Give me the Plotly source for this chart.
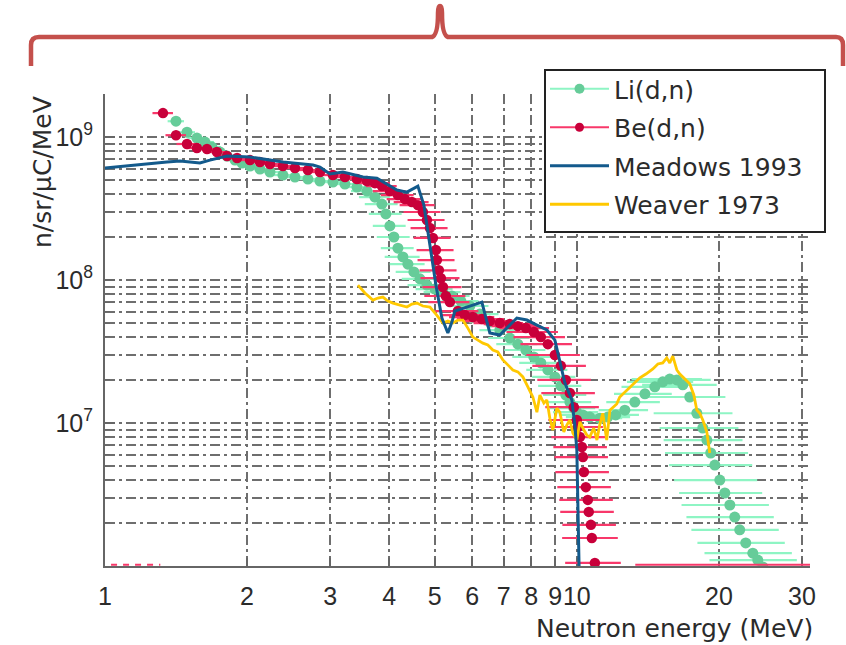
import math
import plotly.graph_objects as go

# ---------------- data ----------------
# Li(d,n): neutron energy (MeV), yield (n/sr/uC/MeV), fractional energy half-width
li_E = [1.414, 1.492, 1.566, 1.629, 1.685, 1.753, 1.814, 1.886, 1.951, 2.029,
        2.130, 2.237, 2.383, 2.527, 2.692, 2.855, 3.041, 3.225, 3.420, 3.591,
        3.733, 3.862, 3.938, 4.016, 4.095, 4.176, 4.279, 4.385, 4.515, 4.649,
        4.811, 5.003, 5.202, 5.435, 5.679, 5.933, 6.230, 6.541, 6.867, 7.210,
        7.499, 7.797, 8.107, 8.389, 8.681, 8.984, 9.250, 9.477, 9.665, 9.854,
        10.00, 10.30, 10.65, 11.19, 11.63, 12.09, 12.64, 13.27, 13.94, 14.63,
        15.21, 15.74, 16.29, 16.77, 17.35, 17.96, 18.49, 18.86, 19.22, 19.61,
        20.09, 20.59, 21.10, 21.61, 22.14, 22.80, 23.60, 24.18, 24.79]
li_flux = [1.29e9, 1.08e9, 9.84e8, 9.23e8, 8.51e8, 7.85e8, 7.36e8, 6.90e8, 6.58e8, 6.27e8,
           5.97e8, 5.69e8, 5.42e8, 5.25e8, 5.08e8, 4.92e8, 4.84e8, 4.69e8, 4.47e8, 4.19e8,
           3.80e8, 3.40e8, 2.90e8, 2.39e8, 2.00e8, 1.67e8, 1.45e8, 1.29e8, 1.14e8, 1.02e8,
           9.22e7, 8.65e7, 8.24e7, 7.73e7, 7.13e7, 6.58e7, 5.78e7, 5.08e7, 4.47e7, 3.93e7,
           3.56e7, 3.24e7, 2.90e7, 2.63e7, 2.35e7, 2.10e7, 1.82e7, 1.57e7, 1.40e7, 1.27e7,
           1.19e7, 1.14e7, 1.10e7, 1.08e7, 1.10e7, 1.14e7, 1.23e7, 1.40e7, 1.60e7, 1.79e7,
           1.94e7, 2.03e7, 2.00e7, 1.85e7, 1.52e7, 1.17e7, 9.23e6, 7.60e6, 6.17e6, 5.08e6,
           3.99e6, 3.24e6, 2.67e6, 2.20e6, 1.79e6, 1.45e6, 1.23e6, 1.10e6, 9.84e5]
li_res = [0.04, 0.04, 0.045, 0.045, 0.045, 0.045, 0.05, 0.05, 0.05,
          0.05, 0.055, 0.055, 0.055, 0.06, 0.06, 0.06,
          0.065, 0.07, 0.07, 0.075, 0.075, 0.08, 0.08, 0.08, 0.08, 0.08, 0.085, 0.085,
          0.085, 0.085, 0.09, 0.09, 0.09, 0.09, 0.09, 0.095, 0.095, 0.095, 0.095,
          0.10, 0.10, 0.10, 0.10, 0.10, 0.10, 0.105, 0.105, 0.105, 0.11, 0.11, 0.11,
          0.11, 0.11, 0.115, 0.115, 0.12, 0.12,
          0.13, 0.14, 0.15, 0.16, 0.17,
          0.18, 0.18, 0.19, 0.19, 0.19, 0.19, 0.20, 0.20,
          0.20, 0.20, 0.21, 0.21, 0.21, 0.21, 0.21, 0.21, 0.21]

# Be(d,n)
be_E = [1.327, 1.414, 1.492, 1.566, 1.645, 1.727, 1.814, 1.905, 2.029, 2.130,
        2.237, 2.383, 2.527, 2.692, 2.855, 3.041, 3.225, 3.420, 3.591, 3.733,
        3.862, 4.016, 4.176, 4.321, 4.471, 4.603, 4.717, 4.811, 4.882, 4.954,
        5.027, 5.051, 5.101, 5.151, 5.202, 5.278, 5.382, 5.596, 5.790, 6.021,
        6.291, 6.541, 6.867, 7.210, 7.499, 7.797, 8.107, 8.389, 8.681, 8.984,
        9.250, 9.477, 9.665, 9.854, 10.00, 10.05, 10.15, 10.25, 10.30, 10.35,
        10.45, 10.55, 10.60, 10.71, 10.76, 10.92]
be_flux = [1.47e9, 1.03e9, 8.94e8, 8.38e8, 8.24e8, 7.85e8, 7.36e8, 7.13e8, 6.90e8, 6.68e8,
           6.47e8, 6.27e8, 6.07e8, 5.88e8, 5.69e8, 5.42e8, 5.25e8, 5.08e8, 4.92e8, 4.76e8,
           4.54e8, 4.19e8, 3.93e8, 3.68e8, 3.51e8, 3.34e8, 2.99e8, 2.63e8, 2.31e8, 1.97e8,
           1.62e8, 1.38e8, 1.17e8, 1.03e8, 8.93e7, 7.73e7, 7.01e7, 6.07e7, 5.69e7, 5.51e7,
           5.33e7, 5.16e7, 5.00e7, 4.92e7, 4.76e7, 4.61e7, 4.33e7, 3.99e7, 3.56e7, 2.99e7,
           2.51e7, 2.00e7, 1.62e7, 1.29e7, 1.05e7, 9.38e6, 7.98e6, 6.79e6, 5.78e6, 4.54e6,
           3.56e6, 2.90e6, 2.39e6, 1.94e6, 1.57e6, 1.05e6]
be_res = [0.05, 0.05, 0.05, 0.05, 0.05, 0.05, 0.055, 0.055,
          0.055, 0.06, 0.06, 0.06, 0.06, 0.065, 0.065, 0.065, 0.07, 0.07, 0.07, 0.075, 0.075,
          0.08, 0.08, 0.085, 0.085, 0.085, 0.09, 0.09, 0.09, 0.09, 0.09, 0.09, 0.09, 0.095, 0.095,
          0.10, 0.10, 0.105, 0.11, 0.11, 0.115, 0.115, 0.12, 0.12, 0.12, 0.12, 0.125,
          0.125, 0.125, 0.13, 0.13, 0.13, 0.13, 0.13, 0.13, 0.13, 0.13, 0.13, 0.13,
          0.13, 0.13, 0.13, 0.13, 0.13, 0.135, 0.135]
# Be(d,n) bins below the plotted range (drawn on the lower edge)
be_low_E = [13.3, 31.2]
be_low_flux = [1.02e6, 1.02e6]
be_low2_E = [1.03, 1.31]
be_low2_flux = [1.02e6, 1.02e6]

# Meadows 1993
md_E = [1.000, 1.146, 1.353, 1.442, 1.589, 1.669, 1.814, 2.029, 2.383, 2.759,
        2.855, 2.997, 3.193, 3.521, 3.770, 4.156, 4.363, 4.603, 4.741, 4.882,
        5.027, 5.176, 5.329, 5.435, 5.514, 5.847, 6.291, 6.541, 6.867, 7.462,
        7.836, 8.229, 8.639, 8.984, 9.204, 9.431, 9.759, 9.903, 10.00, 10.05, 10.15]
md_flux = [6.07e8, 6.37e8, 6.68e8, 6.80e8, 6.58e8, 6.90e8, 7.36e8, 7.25e8, 6.68e8, 6.37e8,
           6.17e8, 5.51e8, 5.69e8, 5.25e8, 5.16e8, 4.26e8, 4.12e8, 4.54e8, 3.34e8, 1.76e8,
           9.22e7, 5.42e7, 4.26e7, 5.08e7, 6.07e7, 6.47e7, 7.01e7, 4.26e7, 4.12e7, 5.42e7,
           5.25e7, 4.84e7, 4.47e7, 3.80e7, 2.76e7, 1.91e7, 1.45e7, 9.68e6, 6.47e6, 3.40e6, 5.0e5]

# Weaver 1973
wv_E = [3.436, 3.555, 3.697, 3.788, 3.881, 3.977, 4.075, 4.217, 4.363, 4.471,
        4.581, 4.717, 4.882, 5.027, 5.202, 5.329, 5.462, 5.596, 5.735, 5.875,
        6.021, 6.170, 6.323, 6.477, 6.637, 6.801, 6.970, 7.140, 7.317, 7.499,
        7.685, 7.874, 8.068, 8.229, 8.350, 8.514, 8.639, 8.766, 8.896, 9.071,
        9.204, 9.386, 9.524, 9.665, 9.806, 10.00, 10.15, 10.35, 10.50, 10.65,
        10.86, 11.03, 11.19, 11.35, 11.57, 11.75, 11.92, 12.15, 12.33, 12.64,
        12.95, 13.27, 13.60, 14.01, 14.49, 14.85, 15.21, 15.51, 15.74, 15.97,
        16.29, 16.53, 16.93, 17.35, 17.70, 17.96, 18.22, 18.49, 18.86, 19.13]
wv_flux = [9.22e7, 8.11e7, 7.24e7, 7.48e7, 7.60e7, 7.13e7, 6.90e7, 6.68e7, 6.47e7, 6.79e7,
           6.90e7, 6.58e7, 6.47e7, 5.78e7, 5.00e7, 5.16e7, 5.00e7, 5.25e7, 5.25e7, 4.61e7,
           3.99e7, 3.80e7, 3.62e7, 3.51e7, 3.24e7, 3.14e7, 2.76e7, 2.55e7, 2.35e7, 2.28e7,
           2.10e7, 1.79e7, 1.52e7, 1.19e7, 1.57e7, 1.38e7, 1.45e7, 1.08e7, 8.93e6, 1.27e7,
           1.19e7, 8.65e6, 9.68e6, 1.05e7, 8.51e6, 7.60e6, 1.02e7, 8.93e6, 8.24e6, 7.98e6,
           9.23e6, 7.60e6, 9.84e6, 1.17e7, 7.60e6, 1.23e7, 1.29e7, 1.36e7, 1.52e7, 1.65e7,
           1.79e7, 1.91e7, 2.07e7, 2.20e7, 2.39e7, 2.59e7, 2.63e7, 2.85e7, 2.63e7, 2.94e7,
           2.35e7, 2.20e7, 2.03e7, 1.88e7, 1.57e7, 1.23e7, 1.17e7, 1.05e7, 8.65e6, 6.17e6]

# axis ticks
x_tickvals = [1, 2, 3, 4, 5, 6, 7, 8, 9, 10, 20, 30]
x_ticktext = ["1", "2", "3", "4", "5", "6", "7", "8", "9", "10", "20", "30"]
y_tickvals = [1e7, 1e8, 1e9]
y_ticktext = ["10<sup>7</sup>", "10<sup>8</sup>", "10<sup>9</sup>"]

# ---------------- styling ----------------
LI_MARK = "#66cc99"
LI_ERR = "#8ef5c4"
BE_MARK = "#c8003a"
BE_ERR = "#f8386a"
MD_COL = "#135a8c"
WV_COL = "#ffc800"
GRID_COL = "#6e6e6e"
AX_COL = "#666666"
TXT_COL = "#2b2b2b"

W, H = 846, 645
ML, MR, MT, MB = 105, 36, 94, 79
PW, PH = W - ML - MR, H - MT - MB


def px(x):
    return (x - ML) / PW


def py(y):
    return (H - MB - y) / PH


li_dE = [r * e for r, e in zip(li_res, li_E)]
be_dE = [r * e for r, e in zip(be_res, be_E)]

fig = go.Figure()

fig.add_trace(go.Scatter(
    x=li_E, y=li_flux, mode="markers", showlegend=False, hoverinfo="skip",
    marker=dict(size=11, color=LI_MARK, line=dict(width=0)),
    error_x=dict(type="data", array=li_dE, color=LI_ERR, thickness=2.2, width=0),
))
fig.add_trace(go.Scatter(
    x=be_low_E, y=be_low_flux, mode="lines", showlegend=False, hoverinfo="skip",
    line=dict(color=BE_ERR, width=2),
))
fig.add_trace(go.Scatter(
    x=be_low2_E, y=be_low2_flux, mode="lines", showlegend=False, hoverinfo="skip",
    line=dict(color=BE_ERR, width=2, dash="6px,6px"),
))
fig.add_trace(go.Scatter(
    x=be_E, y=be_flux, mode="markers", showlegend=False, hoverinfo="skip",
    marker=dict(size=10.5, color=BE_MARK, line=dict(width=0)),
    error_x=dict(type="data", array=be_dE, color=BE_ERR, thickness=2.2, width=0),
))
fig.add_trace(go.Scatter(
    x=wv_E, y=wv_flux, mode="lines", name="Weaver 1973",
    line=dict(color=WV_COL, width=2.8), legendgroup="d", legendrank=4,
))
fig.add_trace(go.Scatter(
    x=md_E, y=md_flux, mode="lines", name="Meadows 1993",
    line=dict(color=MD_COL, width=3), legendgroup="c", legendrank=3,
))
# legend entries for the two measured spectra (marker with error bar line)
fig.add_trace(go.Scatter(
    x=[None], y=[None], mode="lines+markers", name="Li(d,n)",
    line=dict(color=LI_ERR, width=2), marker=dict(size=10, color=LI_MARK),
    legendgroup="a", legendrank=1,
))
fig.add_trace(go.Scatter(
    x=[None], y=[None], mode="lines+markers", name="Be(d,n)",
    line=dict(color=BE_ERR, width=2), marker=dict(size=9, color=BE_MARK),
    legendgroup="b", legendrank=2,
))

grid = dict(showgrid=True, gridcolor=GRID_COL, gridwidth=1.6, griddash="10px,4px,3px,4px")

y_minor = [k * 10 ** n for n in (6, 7, 8, 9) for k in range(2, 10) if k * 10 ** n <= 2e9]

fig.update_layout(
    width=W, height=H,
    margin=dict(l=ML, r=MR, t=MT, b=MB, pad=0),
    paper_bgcolor="white", plot_bgcolor="white",
    font=dict(family="Liberation Sans, Arial, sans-serif", color=TXT_COL),
    xaxis=dict(
        type="log", range=[0, math.log10(31.2)],
        tickmode="array", tickvals=x_tickvals, ticktext=x_ticktext, tickangle=0,
        ticks="inside", ticklen=8, tickwidth=1.5, tickcolor=AX_COL,
        showline=True, linecolor=AX_COL, linewidth=2, mirror=False,
        tickfont=dict(family="Liberation Sans, Arial, sans-serif", size=25, color=TXT_COL),
        ticklabelstandoff=7, zeroline=False, layer="below traces",
        **grid,
    ),
    yaxis=dict(
        type="log", range=[6, math.log10(2e9)],
        tickmode="array", tickvals=y_tickvals, ticktext=y_ticktext,
        ticks="inside", ticklen=10, tickwidth=1.5, tickcolor=AX_COL,
        showline=True, linecolor=AX_COL, linewidth=2, mirror=False,
        tickfont=dict(family="Liberation Sans, Arial, sans-serif", size=25, color=TXT_COL),
        ticklabelstandoff=5, zeroline=False, layer="below traces",
        minor=dict(tickmode="array", tickvals=y_minor, ticks="inside", ticklen=5,
                   tickwidth=1.2, tickcolor=AX_COL, **grid),
        **grid,
    ),
    legend=dict(
        x=px(545), y=py(66), xanchor="left", yanchor="top",
        bgcolor="rgba(0,0,0,0)", borderwidth=0,
        font=dict(family="DejaVu Sans, sans-serif", size=25, color=TXT_COL),
        traceorder="grouped", tracegroupgap=3, itemwidth=59,
    ),
    annotations=[
        dict(text="Neutron energy (MeV)", xref="paper", yref="paper",
             x=px(815), y=py(628), xanchor="right", yanchor="middle", showarrow=False,
             font=dict(family="DejaVu Sans, sans-serif", size=25, color=TXT_COL)),
        dict(text="n/sr/µC/MeV", xref="paper", yref="paper", textangle=-90,
             x=px(42), y=py(172), xanchor="center", yanchor="middle", showarrow=False,
             font=dict(family="DejaVu Sans, sans-serif", size=25, color=TXT_COL)),
    ],
)

# legend frame (white box with dark border, wider than the auto-sized legend)
fig.add_shape(type="rect", xref="paper", yref="paper",
              x0=px(545), x1=px(825), y0=py(232), y1=py(70),
              fillcolor="white", line=dict(color="#222222", width=2), layer="above")

# decorative curly brace above the chart
brace = (
    f"M {px(31)},{py(66)} L {px(31)},{py(45)} Q {px(31)},{py(37)} {px(39)},{py(37)} "
    f"L {px(432)},{py(37)} Q {px(438)},{py(35)} {px(438)},{py(13)} "
    f"Q {px(438)},{py(6)} {px(440)},{py(6)} Q {px(442)},{py(6)} {px(442)},{py(13)} "
    f"Q {px(442)},{py(35)} {px(448)},{py(37)} L {px(836)},{py(37)} "
    f"Q {px(843)},{py(37)} {px(843)},{py(45)} L {px(843)},{py(66)}"
)
fig.add_shape(type="path", path=brace, xref="paper", yref="paper",
              line=dict(color="#c4504c", width=4.5), layer="above")

fig.write_html("out.html")
